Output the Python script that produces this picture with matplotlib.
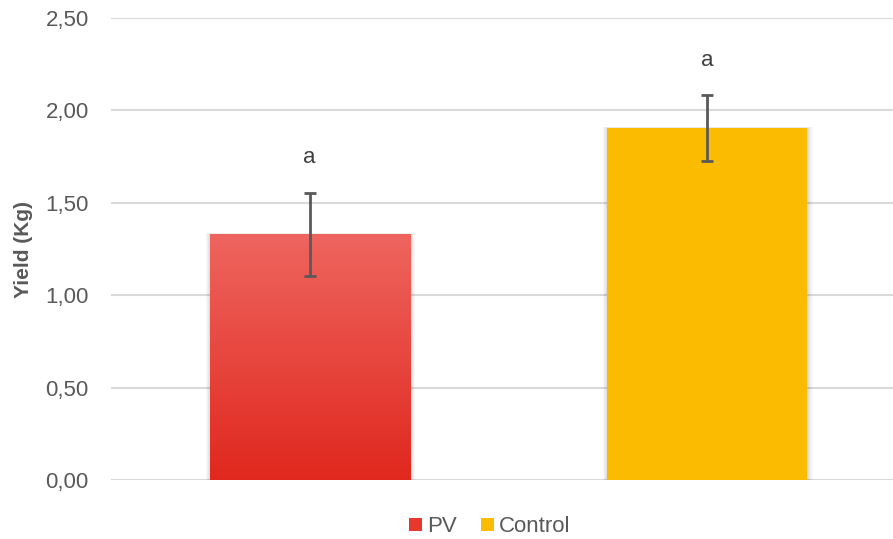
import numpy as np
import matplotlib.pyplot as plt
from matplotlib.patches import Patch
from matplotlib.colors import LinearSegmentedColormap

plt.rcParams['font.family'] = ['Liberation Sans', 'DejaVu Sans']

# datos
grupos = ['PV', 'Control']
rendimiento = [1.33, 1.905]
error = [0.225, 0.177]
letras = ['a', 'a']
colores = ['#E8382E', '#FABB00']

gris = '#595959'

fig = plt.figure(figsize=(8.93, 5.39), dpi=100)
ax = fig.add_axes([111 / 893, 1 - 480 / 539, 1 - 111 / 893, (480 - 18) / 539])

x = np.arange(len(grupos))
ancho = 0.504

# sombra suave detras de las barras
for k in range(1, 5):
    d = k * 0.003
    ax.bar(x + 0.002, np.array(rendimiento) + d * 0.5, width=ancho + 2 * d,
           color='black', alpha=0.03, zorder=2, linewidth=0)

barras = ax.bar(x, rendimiento, width=ancho, color=colores, zorder=3, linewidth=0)

# degradado en la barra PV
cmap = LinearSegmentedColormap.from_list('rojo', ['#E0281E', '#EE655F'])
b = barras[0]
grad = np.linspace(0, 1, 256).reshape(-1, 1)
img = ax.imshow(grad, cmap=cmap, origin='lower', aspect='auto', zorder=3.5,
                extent=[b.get_x(), b.get_x() + b.get_width(), 0, b.get_height()])
img.set_clip_path(b)

ax.errorbar(x, rendimiento, yerr=error, fmt='none', ecolor=gris, elinewidth=2,
            capsize=4.5, capthick=2, zorder=5)

for xi, v, e, l in zip(x, rendimiento, error, letras):
    ax.text(xi, v + e + 0.19, l, ha='center', va='center', fontsize=16, color='#404040')

ax.set_xlim(-0.5, (893 - 310) / 397)
ax.set_ylim(0, 2.5)
ax.set_yticks(np.arange(0, 2.51, 0.5))
ax.set_yticklabels([f'{t:.2f}'.replace('.', ',') for t in np.arange(0, 2.51, 0.5)])
ax.set_xticks([])
ax.grid(axis='y', color='#D9D9D9', linewidth=1.5, zorder=0)
ax.set_axisbelow(True)
for s in ax.spines.values():
    s.set_visible(False)
ax.tick_params(axis='y', length=0, pad=16, labelsize=16, labelcolor=gris)
ax.set_ylabel('Yield (Kg)', fontsize=15, fontweight='bold', color=gris)
ax.yaxis.set_label_coords(-(111 - 33) / 782, 0.5)

manijas = [Patch(facecolor='#E8382E', label='PV'), Patch(facecolor='#FABB00', label='Control')]
fig.legend(handles=manijas, loc='center', bbox_to_anchor=(490 / 893, 1 - 527 / 539),
           ncol=2, frameon=False, fontsize=16, labelcolor=gris, handlelength=0.55,
           handleheight=0.55, handletextpad=0.25, columnspacing=1.1)

fig.savefig('out.png', dpi=100)
